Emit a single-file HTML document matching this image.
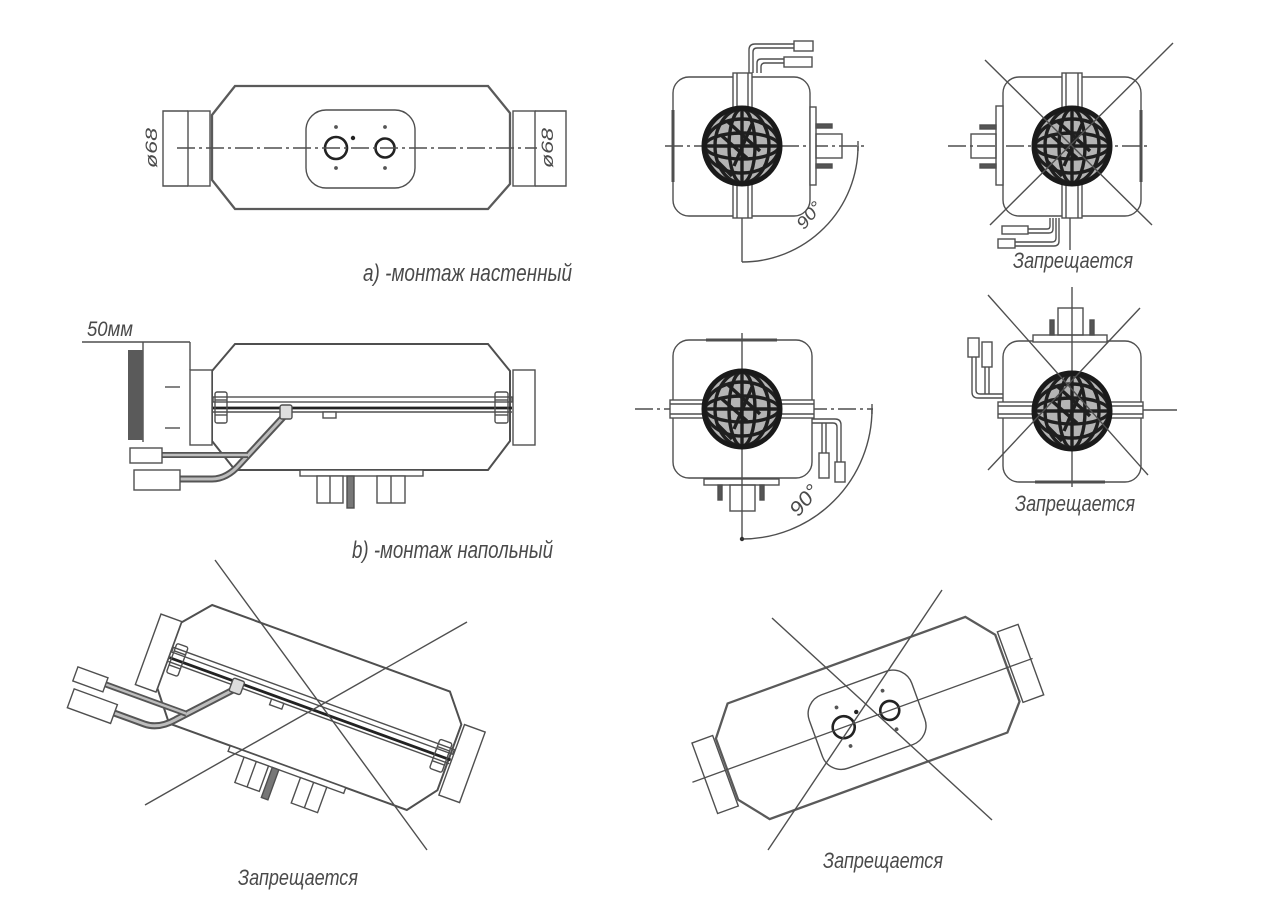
<!DOCTYPE html>
<html><head><meta charset="utf-8"><style>
html,body{margin:0;padding:0;background:#fff;}
svg{display:block}
text{font-family:"Liberation Sans","DejaVu Sans",sans-serif;font-style:italic;fill:#4a4a4a;}
</style></head><body>
<svg width="1262" height="920" viewBox="0 0 1262 920" xmlns="http://www.w3.org/2000/svg">
<defs>
<g id="sph">
 <circle r="38" fill="#b4b4b4" stroke="#1e1e1e" stroke-width="4"/>
 <g fill="none" stroke="#1f1f1f" stroke-width="3.4">
  <ellipse rx="13" ry="37"/>
  <ellipse rx="27" ry="37"/>
  <line x1="0" y1="-37" x2="0" y2="37"/>
  <ellipse rx="37" ry="13"/>
  <ellipse rx="37" ry="27"/>
  <line x1="-37" y1="0" x2="37" y2="0"/>
  <path d="M-20,-10 L5,12 M10,-22 L-8,20 M18,5 L-15,-25 M-25,15 L-10,30"/>
 </g>
 <circle r="38" fill="none" stroke="#1a1a1a" stroke-width="5"/>
</g>

<g id="side" fill="none" stroke="#4f4f4f" stroke-width="1.4">
 <polygon points="212,371 235,344 488,344 510,371 510,441 488,470 235,470 212,441" stroke-width="2" fill="#fff"/>
 <rect x="190" y="370" width="22" height="75" fill="#fff"/>
 <rect x="513" y="370" width="22" height="75" fill="#fff"/>
 <rect x="213" y="397" width="299" height="5"/>
 <line x1="213" y1="408" x2="512" y2="408" stroke="#222" stroke-width="2.8"/>
 <line x1="213" y1="412" x2="512" y2="412"/>
 <rect x="215" y="392" width="12" height="31" rx="2"/>
 <line x1="215" y1="400" x2="227" y2="400"/>
 <line x1="215" y1="415" x2="227" y2="415"/>
 <rect x="495" y="392" width="13" height="31" rx="2"/>
 <line x1="495" y1="400" x2="508" y2="400"/>
 <line x1="495" y1="415" x2="508" y2="415"/>
 <rect x="323" y="412" width="13" height="6" fill="#fff"/>
 <path d="M288,412 L240,464 Q227,479 212,479 H180" stroke="#555" stroke-width="7"/>
 <path d="M288,412 L240,464 Q227,479 212,479 H180" stroke="#bdbdbd" stroke-width="3"/>
 <path d="M162,455 H248" stroke="#555" stroke-width="6"/>
 <path d="M162,455 H248" stroke="#bdbdbd" stroke-width="2.4"/>
 <rect x="280" y="405" width="12" height="14" rx="2" fill="#ddd"/>
 <rect x="130" y="448" width="32" height="15" fill="#fff"/>
 <rect x="134" y="470" width="46" height="20" fill="#fff"/>
 <rect x="300" y="470" width="123" height="6" fill="#fff"/>
 <rect x="317" y="476" width="26" height="27" fill="#fff"/>
 <line x1="330" y1="476" x2="330" y2="503"/>
 <rect x="347" y="476" width="7" height="32" fill="#777"/>
 <rect x="377" y="476" width="28" height="27" fill="#fff"/>
 <line x1="391" y1="476" x2="391" y2="503"/>
</g>

<g id="topv" fill="none" stroke="#4f4f4f" stroke-width="1.4">
 <polygon points="212,115 235,86 488,86 510,113 510,184 488,209 235,209 212,180" stroke="#5a5a5a" stroke-width="2.3"/>
 <rect x="188" y="111" width="22" height="75" fill="#fff"/>
 <rect x="513" y="111" width="22" height="75" fill="#fff"/>
 <rect x="306" y="110" width="109" height="78" rx="20"/>
 <circle cx="336" cy="148" r="11" stroke="#222" stroke-width="2.6"/>
 <circle cx="385" cy="148" r="9.5" stroke="#222" stroke-width="2.6"/>
 <g fill="#555" stroke="none">
  <circle cx="336" cy="127" r="1.9"/>
  <circle cx="385" cy="127" r="1.9"/>
  <circle cx="336" cy="168" r="1.9"/>
  <circle cx="385" cy="168" r="1.9"/>
  <circle cx="353" cy="138" r="2.2" fill="#222"/>
 </g>
</g>
</defs>

<!-- ============ a) top-left ============ -->
<use href="#topv"/>
<g fill="none" stroke="#4f4f4f" stroke-width="1.4">
 <path d="M188,111 H163 V186 H188"/>
 <path d="M535,111 H566 V186 H535"/>
 <line x1="177" y1="148" x2="537" y2="148" stroke-dasharray="18 4 3 4"/>
</g>
<text transform="translate(157,148) rotate(-90)" text-anchor="middle" font-size="17" textLength="40" lengthAdjust="spacingAndGlyphs">ø68</text>
<text transform="translate(553,148) rotate(-90)" text-anchor="middle" font-size="17" textLength="40" lengthAdjust="spacingAndGlyphs">ø68</text>
<text x="363" y="281" font-size="24" textLength="209" lengthAdjust="spacingAndGlyphs">а) -монтаж настенный</text>

<!-- ============ top-middle ============ -->
<g fill="none" stroke="#4f4f4f" stroke-width="1.4">
 <rect x="673" y="77" width="137" height="139" rx="16"/>
 <line x1="673" y1="110" x2="673" y2="182" stroke-width="3"/>
 <line x1="665" y1="146" x2="867" y2="146" stroke-dasharray="18 4 3 4"/>
 <rect x="810" y="107" width="6" height="78" fill="#fff"/>
 <rect x="816" y="134" width="26" height="24"/>
 <rect x="816" y="124" width="16" height="4" fill="#555"/>
 <rect x="816" y="164" width="16" height="4" fill="#555"/>
 <rect x="733" y="73" width="19" height="145" fill="#fff"/>
 <line x1="737" y1="73" x2="737" y2="218"/>
 <line x1="748" y1="73" x2="748" y2="218"/>
 <path d="M749,73 V50 Q749,44 755,44 H794"/>
 <path d="M753,73 V52 Q753,48 757,48 H794"/>
 <path d="M757,73 V63 Q757,59 761,59 H784"/>
 <path d="M761,73 V67 Q761,63 765,63 H784"/>
 <rect x="794" y="41" width="19" height="10" fill="#fff"/>
 <rect x="784" y="57" width="28" height="10" fill="#fff"/>
 <line x1="742" y1="218" x2="742" y2="262"/>
 <path d="M742,262 A116,116 0 0 0 858,146"/>
 <line x1="858" y1="141" x2="858" y2="151"/>
</g>
<use href="#sph" x="742" y="146"/>
<text transform="translate(809,215) rotate(-50)" text-anchor="middle" dy="6" font-size="17" textLength="30" lengthAdjust="spacingAndGlyphs">90°</text>

<!-- ============ top-right ============ -->
<g fill="none" stroke="#4f4f4f" stroke-width="1.4">
 <rect x="1003" y="77" width="138" height="139" rx="16"/>
 <line x1="1141" y1="110" x2="1141" y2="182" stroke-width="3"/>
 <line x1="948" y1="146" x2="1148" y2="146" stroke-dasharray="18 4 3 4"/>
 <rect x="996" y="106" width="7" height="79" fill="#fff"/>
 <rect x="971" y="134" width="25" height="24"/>
 <rect x="980" y="125" width="16" height="4" fill="#555"/>
 <rect x="980" y="164" width="16" height="4" fill="#555"/>
 <rect x="1062" y="73" width="20" height="145" fill="#fff"/>
 <line x1="1066" y1="73" x2="1066" y2="218"/>
 <line x1="1078" y1="73" x2="1078" y2="218"/>
 <path d="M1050,218 V226 Q1050,229 1047,229 H1028"/>
 <path d="M1053,218 V229 Q1053,233 1049,233 H1028"/>
 <path d="M1056,218 V238 Q1056,242 1052,242 H1015"/>
 <path d="M1059,218 V241 Q1059,246 1054,246 H1015"/>
 <rect x="1002" y="226" width="26" height="8" fill="#fff"/>
 <rect x="998" y="239" width="17" height="9" fill="#fff"/>
 <line x1="1070" y1="218" x2="1070" y2="250"/>
</g>
<use href="#sph" x="1072" y="146"/>
<g stroke="#4f4f4f" stroke-width="1.4">
 <line x1="985" y1="60" x2="1152" y2="225"/>
 <line x1="1173" y1="43" x2="990" y2="225"/>
</g>
<text x="1013" y="268" font-size="22" textLength="120" lengthAdjust="spacingAndGlyphs">Запрещается</text>

<!-- ============ b) middle-left ============ -->
<use href="#side"/>
<g fill="none" stroke="#4f4f4f" stroke-width="1.4">
 <line x1="82" y1="342" x2="190" y2="342"/>
 <line x1="190" y1="342" x2="190" y2="370"/>
 <line x1="143" y1="342" x2="143" y2="442"/>
 <line x1="165" y1="387" x2="180" y2="387"/>
 <line x1="165" y1="428" x2="180" y2="428"/>
</g>
<rect x="128" y="350" width="15" height="90" fill="#5a5a5a"/>
<text x="87" y="336" font-size="21" textLength="46" lengthAdjust="spacingAndGlyphs">50мм</text>
<text x="352" y="558" font-size="24" textLength="201" lengthAdjust="spacingAndGlyphs">b) -монтаж напольный</text>

<!-- ============ middle-middle ============ -->
<g fill="none" stroke="#4f4f4f" stroke-width="1.4">
 <rect x="673" y="340" width="139" height="138" rx="16"/>
 <line x1="706" y1="340" x2="777" y2="340" stroke-width="3"/>
 <line x1="635" y1="409" x2="873" y2="409" stroke-dasharray="18 4 3 4"/>
 <rect x="670" y="400" width="144" height="18" fill="#fff"/>
 <line x1="670" y1="404" x2="814" y2="404"/>
 <line x1="670" y1="414" x2="814" y2="414"/>
 <rect x="704" y="479" width="75" height="6" fill="#fff"/>
 <rect x="730" y="485" width="25" height="26"/>
 <rect x="718" y="485" width="4" height="15" fill="#555"/>
 <rect x="760" y="485" width="4" height="15" fill="#555"/>
 <line x1="742" y1="333" x2="742" y2="538"/>
 <path d="M812,419 H835 Q841,419 841,425 V462"/>
 <path d="M812,423 H833 Q837,423 837,427 V462"/>
 <line x1="822" y1="423" x2="822" y2="453"/>
 <line x1="826" y1="423" x2="826" y2="453"/>
 <rect x="819" y="453" width="10" height="25" fill="#fff"/>
 <rect x="835" y="462" width="10" height="20" fill="#fff"/>
 <path d="M872,409 A130,130 0 0 1 742,539"/>
 <line x1="872" y1="404" x2="872" y2="414"/>
</g>
<circle cx="742" cy="539" r="2.2" fill="#333"/>
<use href="#sph" x="742" y="409"/>
<text transform="translate(804,500) rotate(-50)" text-anchor="middle" dy="7" font-size="20" textLength="34" lengthAdjust="spacingAndGlyphs">90°</text>

<!-- ============ middle-right ============ -->
<g fill="none" stroke="#4f4f4f" stroke-width="1.4">
 <rect x="1003" y="341" width="138" height="141" rx="16"/>
 <line x1="1035" y1="482" x2="1105" y2="482" stroke-width="3"/>
 <rect x="1033" y="335" width="74" height="7" fill="#fff"/>
 <rect x="1058" y="308" width="25" height="27"/>
 <rect x="1050" y="320" width="4" height="15" fill="#555"/>
 <rect x="1090" y="320" width="4" height="15" fill="#555"/>
 <line x1="1072" y1="287" x2="1072" y2="487"/>
 <rect x="998" y="402" width="145" height="16" fill="#fff"/>
 <line x1="998" y1="406" x2="1143" y2="406"/>
 <line x1="998" y1="414" x2="1143" y2="414"/>
 <line x1="1143" y1="410" x2="1177" y2="410"/>
 <path d="M1003,398 H978 Q972,398 972,392 V357"/>
 <path d="M1003,394 H980 Q976,394 976,390 V357"/>
 <line x1="985" y1="367" x2="985" y2="394"/>
 <line x1="989" y1="367" x2="989" y2="394"/>
 <rect x="968" y="338" width="11" height="19" fill="#fff"/>
 <rect x="982" y="342" width="10" height="25" fill="#fff"/>
</g>
<use href="#sph" x="1072" y="411"/>
<g stroke="#4f4f4f" stroke-width="1.4">
 <line x1="988" y1="295" x2="1148" y2="475"/>
 <line x1="1140" y1="308" x2="988" y2="470"/>
</g>
<text x="1015" y="511" font-size="22" textLength="120" lengthAdjust="spacingAndGlyphs">Запрещается</text>

<!-- ============ bottom-left ============ -->
<use href="#side" transform="translate(309.5,707.5) rotate(20) translate(-361.5,-407)"/>
<g stroke="#4f4f4f" stroke-width="1.4">
 <line x1="215" y1="560" x2="427" y2="850"/>
 <line x1="467" y1="622" x2="145" y2="805"/>
</g>
<text x="238" y="885" font-size="22" textLength="120" lengthAdjust="spacingAndGlyphs">Запрещается</text>

<!-- ============ bottom-right ============ -->
<g transform="translate(867.5,718) rotate(-20) translate(-361.5,-147.5)">
 <use href="#topv"/>
 <line x1="175" y1="148" x2="537" y2="148" stroke="#4f4f4f" stroke-width="1.3"/>
</g>
<g stroke="#4f4f4f" stroke-width="1.4">
 <line x1="772" y1="618" x2="992" y2="820"/>
 <line x1="942" y1="590" x2="768" y2="850"/>
</g>
<text x="823" y="868" font-size="22" textLength="120" lengthAdjust="spacingAndGlyphs">Запрещается</text>
</svg>
</body></html>
